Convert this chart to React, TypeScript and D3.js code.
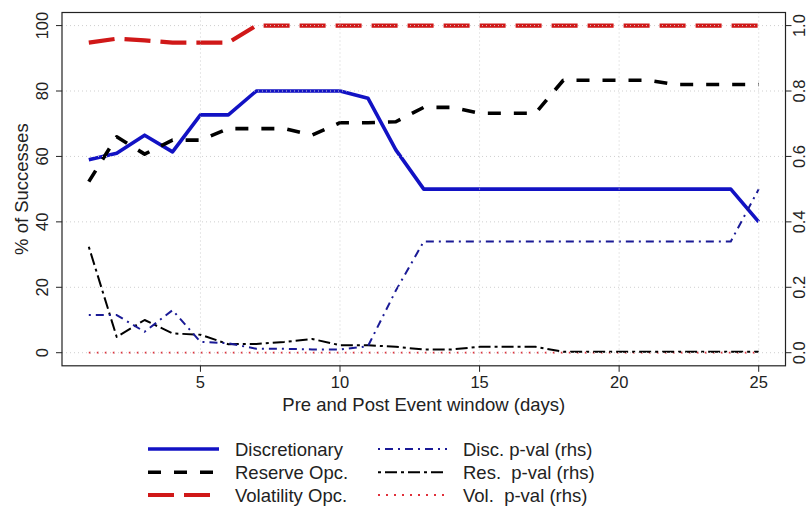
import React from "react";
import * as d3 from "d3";

const days = [1, 2, 3, 4, 5, 6, 7, 8, 9, 10, 11, 12, 13, 14, 15, 16, 17, 18, 19, 20, 21, 22, 23, 24, 25];
const discretionary = [59, 61, 66.5, 61.4, 72.7, 72.7, 80, 80, 80, 80, 77.8, 62, 50, 50, 50, 50, 50, 50, 50, 50, 50, 50, 50, 50, 40];
const reserveOpc = [52.3, 66, 60.7, 65, 65, 68.5, 68.5, 68.5, 66.5, 70.3, 70.3, 70.6, 75, 75, 73.2, 73.2, 73.2, 83.3, 83.3, 83.3, 83.3, 82, 82, 82, 82];
const volatilityOpc = [94.8, 96, 95.5, 94.8, 94.8, 94.8, 100, 100, 100, 100, 100, 100, 100, 100, 100, 100, 100, 100, 100, 100, 100, 100, 100, 100, 100];
const discPval = [0.115, 0.115, 0.064, 0.13, 0.033, 0.029, 0.012, 0.012, 0.01, 0.01, 0.02, 0.19, 0.34, 0.34, 0.34, 0.34, 0.34, 0.34, 0.34, 0.34, 0.34, 0.34, 0.34, 0.34, 0.5];
const resPval = [0.324, 0.048, 0.1, 0.059, 0.055, 0.026, 0.027, 0.033, 0.042, 0.023, 0.023, 0.018, 0.01, 0.01, 0.018, 0.018, 0.018, 0.003, 0.003, 0.003, 0.003, 0.003, 0.003, 0.003, 0.003];
const volPval = [0, 0, 0, 0, 0, 0, 0, 0, 0, 0, 0, 0, 0, 0, 0, 0, 0, 0, 0, 0, 0, 0, 0, 0, 0];

const xTicks = [5, 10, 15, 20, 25];
const yTicks = [0, 20, 40, 60, 80, 100];
const yRTicks = [0, 0.2, 0.4, 0.6, 0.8, 1.0];
const yRTickLabels = ["0.0", "0.2", "0.4", "0.6", "0.8", "1.0"];

const xTitle = "Pre and Post Event window (days)";
const yTitle = "% of Successes";

const legendLeft = ["Discretionary", "Reserve Opc.", "Volatility Opc."];
const legendRight = ["Disc. p-val (rhs)", "Res.  p-val (rhs)", "Vol.  p-val (rhs)"];

const FONT = "'Liberation Sans', Arial, sans-serif";

export default function App() {
  const W = 808, H = 508;
  const L = 62, R = 785.5, T = 12.5, B = 365.8;
  const x = d3.scaleLinear().domain([0.04, 25.96]).range([L, R]);
  const y = d3.scaleLinear().domain([-4, 104]).range([B, T]);
  const yR = d3.scaleLinear().domain([-0.04, 1.04]).range([B, T]);

  const lineL = d3.line<number>().x((_, i) => x(days[i])).y((d) => y(d));
  const lineR = d3.line<number>().x((_, i) => x(days[i])).y((d) => yR(d));

  const styles = {
    disc: { stroke: "#1212c4", width: 3.6, dash: "none" },
    res: { stroke: "#000000", width: 3.6, dash: "13 13" },
    vol: { stroke: "#d01818", width: 4.2, dash: "26 10" },
    discP: { stroke: "#1a1a96", width: 2, dash: "2 5 8 5" },
    resP: { stroke: "#000000", width: 2, dash: "3 4 12 4" },
    volP: { stroke: "#e0303a", width: 1.8, dash: "2 6" },
  };

  const series = [
    { d: lineL(discretionary), s: styles.disc },
    { d: lineL(reserveOpc), s: styles.res },
    { d: lineL(volatilityOpc), s: styles.vol },
    { d: lineR(volPval), s: styles.volP },
    { d: lineR(resPval), s: styles.resP },
    { d: lineR(discPval), s: styles.discP },
  ];

  const legendRows = [449, 472.3, 495];
  const leftStyles = [styles.disc, styles.res, styles.vol];
  const rightStyles = [styles.discP, styles.resP, styles.volP];

  return (
    <div style={{ position: "absolute", left: 0, top: 0 }}>
      <svg width={W} height={H} style={{ display: "block", background: "#fff" }} fontFamily={FONT}>
        <rect x={0} y={0} width={W} height={H} fill="#fff" />
        {series.map((sr, i) => (
          <path key={i} d={sr.d || ""} fill="none" stroke={sr.s.stroke} strokeWidth={sr.s.width}
            strokeDasharray={sr.s.dash} strokeLinejoin="round" />
        ))}
        {/* grid */}
        {yTicks.map((t) => (
          <line key={"gy" + t} x1={L} x2={R} y1={y(t)} y2={y(t)} stroke="#cfcfcf" strokeWidth={1} strokeDasharray="1 3" />
        ))}
        {xTicks.map((t) => (
          <line key={"gx" + t} x1={x(t)} x2={x(t)} y1={T} y2={B} stroke="#cfcfcf" strokeWidth={1} strokeDasharray="1 3" />
        ))}
        {/* box */}
        <rect x={L} y={T} width={R - L} height={B - T} fill="none" stroke="#222" strokeWidth={1.2} />
        {/* left axis */}
        {yTicks.map((t) => (
          <g key={"yl" + t}>
            <line x1={L - 6} x2={L} y1={y(t)} y2={y(t)} stroke="#222" strokeWidth={1} />
            <text transform={`translate(${L - 14},${y(t)}) rotate(-90)`} textAnchor="middle" fontSize={16.5} fill="#222">{t}</text>
          </g>
        ))}
        {/* right axis */}
        {yRTicks.map((t, i) => (
          <g key={"yr" + t}>
            <line x1={R} x2={R + 6} y1={yR(t)} y2={yR(t)} stroke="#222" strokeWidth={1} />
            <text transform={`translate(${R + 19},${yR(t)}) rotate(-90)`} textAnchor="middle" fontSize={16.5} fill="#222">{yRTickLabels[i]}</text>
          </g>
        ))}
        {/* bottom axis */}
        {xTicks.map((t) => (
          <g key={"xb" + t}>
            <line x1={x(t)} x2={x(t)} y1={B} y2={B + 6} stroke="#222" strokeWidth={1} />
            <text x={x(t)} y={B + 22} textAnchor="middle" fontSize={16.5} fill="#222">{t}</text>
          </g>
        ))}
        <text x={(L + R) / 2} y={411} textAnchor="middle" fontSize={18.5} fill="#222">{xTitle}</text>
        <text transform={`translate(28,${(T + B) / 2}) rotate(-90)`} textAnchor="middle" fontSize={18.5} fill="#222">{yTitle}</text>
        {/* legend */}
        {legendRows.map((ly, i) => (
          <g key={"lg" + i}>
            <line x1={148} x2={219} y1={ly} y2={ly} stroke={leftStyles[i].stroke} strokeWidth={leftStyles[i].width} strokeDasharray={leftStyles[i].dash} />
            <text x={235} y={ly + 6.5} fontSize={18.5} fill="#222">{legendLeft[i]}</text>
            <line x1={378} x2={447} y1={ly} y2={ly} stroke={rightStyles[i].stroke} strokeWidth={rightStyles[i].width} strokeDasharray={rightStyles[i].dash} />
            <text x={463} y={ly + 6.5} fontSize={18.5} fill="#222" style={{ whiteSpace: "pre" }}>{legendRight[i]}</text>
          </g>
        ))}
      </svg>
    </div>
  );
}
